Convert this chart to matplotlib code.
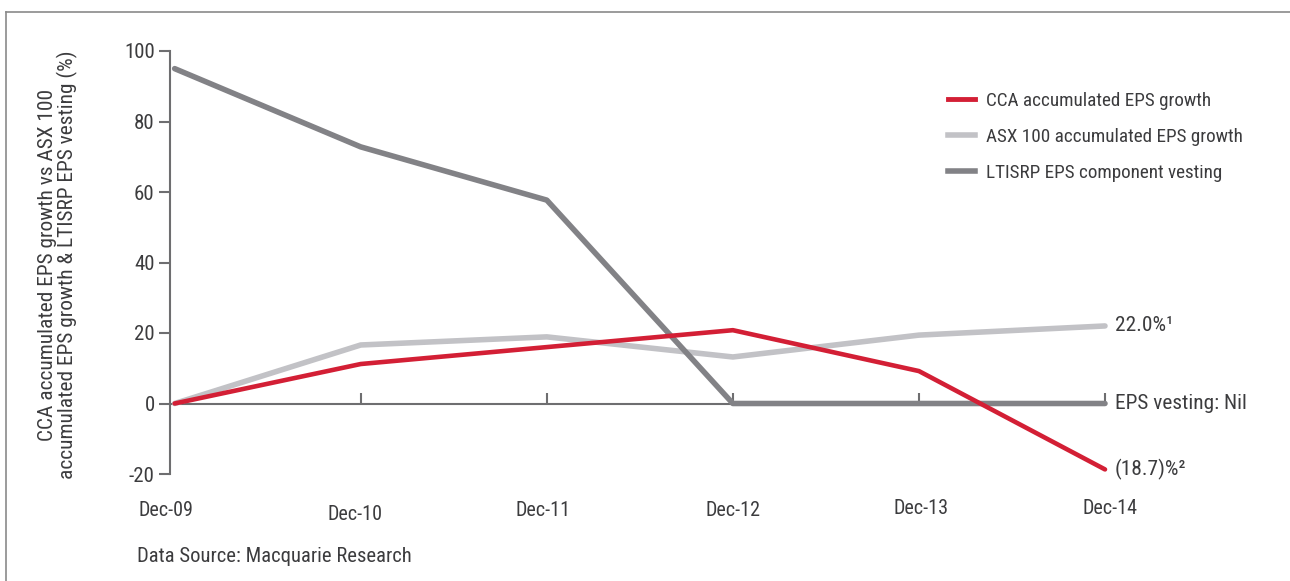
import matplotlib
matplotlib.use("Agg")
import matplotlib.pyplot as plt
from matplotlib import font_manager as fm
from matplotlib.lines import Line2D

names = {f.name for f in fm.fontManager.ttflist}
FONT = "Roboto Condensed" if "Roboto Condensed" in names else "Roboto"
plt.rcParams['font.family'] = [FONT, 'DejaVu Sans']

categories = ["Dec-09", "Dec-10", "Dec-11", "Dec-12", "Dec-13", "Dec-14"]
cca = [0, 11.2, 16.0, 20.8, 9.2, -18.7]
asx = [0, 16.6, 18.9, 13.2, 19.4, 22.0]
ltisrp = [95, 72.8, 57.7, 0, 0, 0]
series_names = ["CCA accumulated EPS growth", "ASX 100 accumulated EPS growth",
                "LTISRP EPS component vesting"]
end_labels = ["(18.7)%\u00b2", "22.0%\u00b9", "EPS vesting: Nil"]
yticks = [-20, 0, 20, 40, 60, 80, 100]
ylabel = "CCA accumulated EPS growth vs ASX 100\naccumulated EPS growth & LTISRP EPS vesting (%)"
source = "Data Source: Macquarie Research"

RED = "#d31f35"
LIGHT = "#c2c2c6"
DARK = "#828286"
AX = "#6e6e70"
TXT = "#3c3c3e"

W, H = 1290, 581
fig = plt.figure(figsize=(W / 100, H / 100), dpi=100)
fig.patch.set_facecolor("white")

# frame (top + left)
fig.add_artist(Line2D([6 / W, 6 / W], [0, 1 - 12 / H], transform=fig.transFigure, color="#8a8a8a", lw=1.2))
fig.add_artist(Line2D([6 / W, 1], [1 - 12 / H, 1 - 12 / H], transform=fig.transFigure, color="#8a8a8a", lw=1.2))

left, right = 170 / W, 1105 / W
bottom, top = (H - 474) / H, (H - 51) / H
ax = fig.add_axes([left, bottom, right - left, top - bottom])
x = list(range(len(categories)))
ax.set_xlim(-0.025, len(categories) - 1)
ax.set_ylim(-20, 100)

ax.plot(x, asx, color=LIGHT, lw=4, solid_capstyle="round", clip_on=False, zorder=3)
ax.plot(x, ltisrp, color=DARK, lw=4, solid_capstyle="round", clip_on=False, zorder=4)
ax.plot(x, cca, color=RED, lw=3.3, solid_capstyle="round", clip_on=False, zorder=5)

for s in ["top", "right"]:
    ax.spines[s].set_visible(False)
ax.spines["left"].set_color(AX)
ax.spines["left"].set_linewidth(1.5)
ax.spines["bottom"].set_position(("data", 0))
ax.spines["bottom"].set_color(AX)
ax.spines["bottom"].set_linewidth(1.5)

ax.set_yticks(yticks)
ax.set_yticklabels([str(v) for v in yticks])
ax.tick_params(axis="y", direction="out", length=8, width=1.5, color=AX, labelsize=15,
               labelcolor=TXT, pad=3)
ax.set_xticks(x[1:])
ax.set_xticklabels([])
ax.tick_params(axis="x", direction="in", length=8, width=1.5, color=AX)

# category labels, slightly staggered as in the reference (pixel offsets / rows)
label_dx = [-9, -6, -4, 0, 2, 5]
label_rows = [511, 514, 511, 511, 509, 508]
for xi, cat, dx, row in zip(x, categories, label_dx, label_rows):
    xp = ax.transData.transform((xi, 0))[0] + dx
    fig.text(xp / W, (H - row) / H, cat, ha="center", va="center", fontsize=14.5,
             color=TXT)

fig.text(58 / W, (H - 265) / H, ylabel, rotation=90, ha="center", va="center",
         fontsize=15.4, color=TXT, linespacing=0.95)

# end labels
ends = [cca[-1], asx[-1], ltisrp[-1]]
for v, lab in zip(ends, end_labels):
    ax.annotate(lab, xy=(x[-1], v), xytext=(7, 0), textcoords="offset points",
                ha="left", va="center", fontsize=15.4, color=TXT, annotation_clip=False)

handles = [Line2D([], [], color=RED, lw=3.5), Line2D([], [], color=LIGHT, lw=4),
           Line2D([], [], color=DARK, lw=4)]
leg = fig.legend(handles, series_names, loc="upper left", bbox_to_anchor=(940 / W, 1 - 84 / H),
                 frameon=False, fontsize=13.8, handlelength=1.45, handletextpad=0.55,
                 labelspacing=0.95, borderaxespad=0)
for t in leg.get_texts():
    t.set_color(TXT)

fig.text(137 / W, 1 - 557 / H, source, ha="left", va="center", fontsize=14.9, color=TXT)

fig.savefig("out.png", dpi=100)
